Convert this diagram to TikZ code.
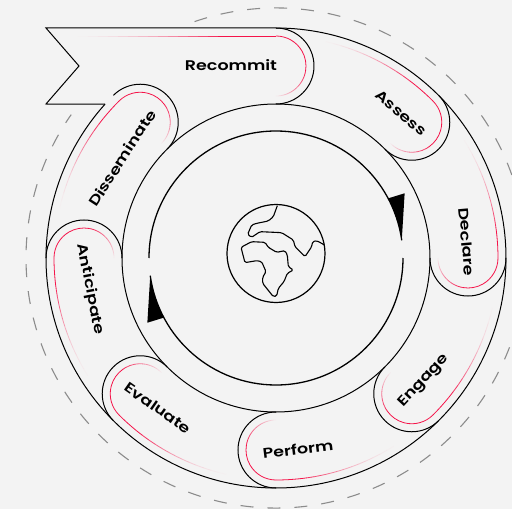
\documentclass[tikz,border=0pt]{standalone}
\usepackage{fontspec}
\newfontfamily\stepfont[FakeStretch=1.25]{Poppins SemiBold}
\usepackage{tikz}
\definecolor{paper}{HTML}{F3F3F3}
\definecolor{trailred}{HTML}{F5144A}
\definecolor{dashgray}{HTML}{8C8C8C}
\tikzset{
	band/.style={color=black, line width=1pt},
	earth/.style={color=black, line width=1.1pt, rounded corners=1.5pt},
	trail/.style={line width=.8pt},
	orbit/.style={color=black, line width=1.3pt},
	wedge/.style={fill=black, draw=none},
	dashring/.style={color=dashgray, line width=1.1pt, dash pattern=on 13pt off 14pt},
	steplabel/.style={font=\stepfont\fontsize{14}{16}\selectfont, text=black, inner sep=0pt}
}
\newcommand{\capfade}[1]{%
	\pgfmathsetmacro{\ca}{#1-100}
	\draw[trail,color=trailred] (#1:222) arc[start angle=#1, end angle=\ca, radius=30];
	\foreach \k in {1,...,16} {
		\pgfmathsetmacro{\sa}{#1-100-(\k-1)*5}
		\pgfmathsetmacro{\pct}{int(100-\k*100/17)}
		\draw[trail,color=trailred!\pct!paper] (#1:192) ++(\sa:30) arc[start angle=\sa, end angle=\sa-5, radius=30];
	}
}
\newcommand{\captrail}[1]{%
	\foreach \k in {1,...,14} {
		\pgfmathsetmacro{\sa}{#1+34-(\k-1)*2}
		\pgfmathsetmacro{\pct}{int(\k/14*\k/14*100)}
		\draw[trail,color=trailred!\pct!paper] (\sa:222) arc[start angle=\sa, end angle=\sa-2, radius=222];
	}
	\draw[trail,color=trailred] (#1+6:222) arc[start angle=#1+6, end angle=#1, radius=222];
	\capfade{#1}
}
\begin{document}
\begin{tikzpicture}[x=1pt,y=1pt]
		\clip (-276,-251) rectangle (236,258);
		\fill[paper] (-276,-251) rectangle (236,258);
		%%%dashed ring
		\draw[dashring] (109:250) arc[start angle=109, end angle=-215, radius=250];
		%%%flag and rim
		\coordinate (flagtop) at (-230,230);
		\coordinate (flagnotch) at (-197,192);
		\coordinate (flagbot) at (-230,154);
		\coordinate (flagjoin) at (138:230);
		\draw[band] (90:230) -- (flagtop) -- (flagnotch) -- (flagbot) -- (flagjoin);
		\draw[band] (90:230) arc[start angle=90, end angle=-222, radius=230];
		\draw[band] (0,0) circle[radius=154];
		%%%caps
		\foreach \a in {90,45,0,-45,-90,-135,180,135} {
			\draw[band] (\a:230) arc[start angle=\a, end angle=\a-180, radius=38];
		}
		%%%red trails
		\foreach \k in {1,...,16} {
			\pgfmathsetmacro{\sx}{-208+(\k-1)*10}
			\pgfmathsetmacro{\pct}{int(\k/16*\k/16*100)}
			\draw[trail,color=trailred!\pct!paper] (\sx,222) -- ++(10,0);
		}
		\draw[trail,color=trailred] (-48,222) -- (0,222);
		\capfade{90}
		\foreach \a in {45,0,-45,-90,-135,180,135} {
			\captrail{\a}
		}
		%%%inner orbit
		\draw[orbit] (180:127) arc[start angle=180, end angle=8, radius=127];
		\draw[orbit] (0:127) arc[start angle=0, end angle=-172, radius=127];
		\fill[wedge] (8:127) arc[start angle=8, end angle=28, radius=127] -- (26.7:144) -- cycle;
		\fill[wedge] (188:127) arc[start angle=188, end angle=208, radius=127] -- (206.7:144) -- cycle;
		%%%globe
		\draw[orbit,line width=1.2pt] (0,4.5) circle[radius=49];
		\begin{scope}[shift={(-66,68)},x=.3333pt,y=-.3333pt]
			\draw[earth] (202,47) -- (190,80) -- (175,93) -- (140,100) -- (125,105) -- (113,133) -- (125,142) -- (150,125) -- (215,128) -- (250,150) -- (255,170) -- (285,200) -- (305,170) -- (308,155) -- (320,152) -- (335,160) -- (343,165);
			\draw[earth] (93,172) -- (125,155) -- (165,157) -- (175,172) -- (200,187) -- (225,182) -- (232,195) -- (235,230) -- (250,240) -- (232,250) -- (222,275) -- (205,295) -- (200,318) -- (190,320) -- (158,280) -- (158,262) -- (168,245) -- (155,215) -- (140,212) -- (105,218) -- cycle;
		\end{scope}
		%%%labels
		\node[steplabel] (recommit) at (-45,193) {Recommit};
		\node[steplabel,rotate=-40] (assess) at (125,145) {Assess};
		\node[steplabel,rotate=-85] (declare) at (191,16) {Declare};
		\node[steplabel,rotate=47] (engage) at (148,-123) {Engage};
		\node[steplabel,rotate=7] (perform) at (22,-191) {Perform};
		\node[steplabel,rotate=-35] (evaluate) at (-118,-150) {Evaluate};
		\node[steplabel,rotate=-79] (anticipate) at (-186,-31) {Anticipate};
		\node[steplabel,rotate=57] (disseminate) at (-154,100) {Disseminate};
	\end{tikzpicture}
\end{document}
